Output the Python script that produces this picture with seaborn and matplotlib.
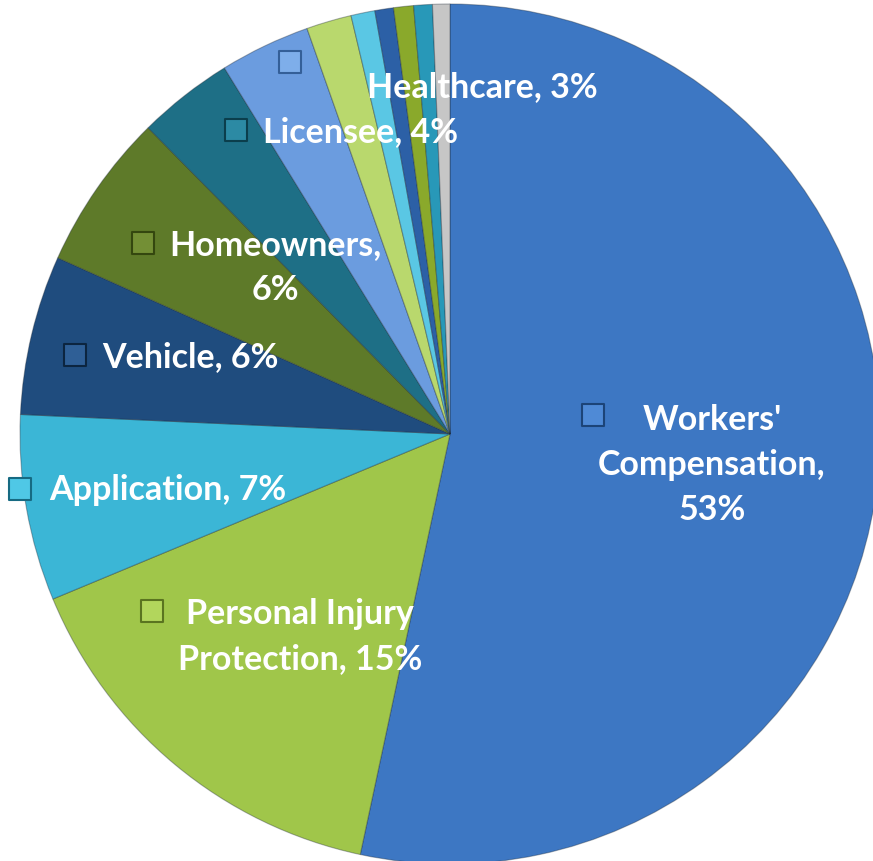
import matplotlib as mpl
mpl.use('agg')
import matplotlib.pyplot as plt
import seaborn as sns

sns.set_theme(style="white")
plt.rcParams['font.family'] = ['Lato', 'DejaVu Sans']

# slices, clockwise from 12 o'clock
categories = ["Workers' Compensation", "Personal Injury Protection", "Application",
              "Vehicle", "Homeowners", "Licensee", "Healthcare",
              "Other A", "Other B", "Other C", "Other D", "Other E", "Other F"]
shares = [53.4, 15.4, 7.0, 6.0, 5.9, 3.6, 3.4, 1.7, 0.9, 0.7, 0.75, 0.7, 0.65]
label_text = ["Workers'\nCompensation,\n53%", "Personal Injury\nProtection, 15%",
              "Application, 7%", "Vehicle, 6%", "Homeowners,\n6%",
              "Licensee, 4%", "Healthcare, 3%"]

colors = sns.color_palette(["#3d77c3", "#a0c64a", "#3bb6d6", "#1f4c7e", "#5e7a29",
                            "#1e6f86", "#6b9cdf", "#b9d86d", "#5ac7e4", "#2c60a6",
                            "#8aa92b", "#2898b8", "#c6c6c6"])
marker_face = ["#4f8ad6", "#b2d65c", "#4fc8e6", "#2f5f96", "#738f35",
               "#2c8aa4", "#7eaeea"]
marker_edge = ["#1c4478", "#5a7420", "#166a82", "#0c2540", "#34470f",
               "#0b3e4c", "#345f98"]

# label layout in figure pixels: (text cx, text cy, marker x, marker y)
label_pos = [(712, 465, 593, 416), (300, 637, 152, 612), (168, 490, 20, 490),
             (190, 357, 75, 356), (275, 268, 143, 244), (360, 132, 236, 131),
             (482, 87, 290, 63)]

W, H = 873, 862
CX, CY, R = 450, 435, 430


def px(x, y):
    return (x - CX) / R, (CY - y) / R


fig = plt.figure(figsize=(W / 100, H / 100), dpi=100)
ax = fig.add_axes([0, 0, 1, 1])
wedges, _ = ax.pie(shares, colors=colors, startangle=90, counterclock=False,
                   radius=1.0,
                   wedgeprops=dict(edgecolor=(0.1, 0.15, 0.2, 0.35), linewidth=0.8))
ax.set_xlim(-CX / R, (W - CX) / R)
ax.set_ylim(-(H - CY) / R, CY / R)
ax.set_aspect('auto')
ax.axis('off')

for i, txt in enumerate(label_text):
    tx, ty, mx, my = label_pos[i]
    ax.text(*px(tx, ty), txt, ha='center', va='center', color='white',
            fontsize=24.5, fontweight='bold', linespacing=1.5)
    ax.scatter(*px(mx, my), marker='s', s=230, facecolor=marker_face[i],
               edgecolor=marker_edge[i], linewidth=1.5, zorder=5)

fig.savefig('out.png', dpi=100)
